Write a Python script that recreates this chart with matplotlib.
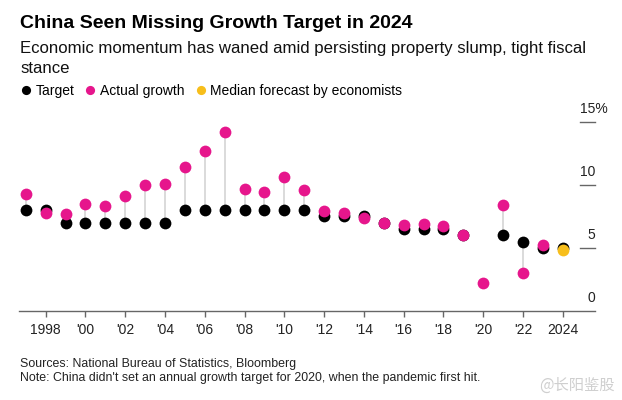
import matplotlib
matplotlib.use("Agg")
import numpy as np
from matplotlib import pyplot as plt
from matplotlib.lines import Line2D

plt.rcParams["font.family"] = ["Liberation Sans", "DejaVu Sans"]

# GDP growth, percent
years = list(range(1997, 2025))
target = [8, 8, 7, 7, 7, 7, 7, 7, 8, 8, 8, 8, 8, 8, 8, 7.5, 7.5, 7.5, 7.0,
          6.5, 6.5, 6.5, 6.0, np.nan, 6.0, 5.5, 5.0, 5.0]
actual = [9.25, 7.8, 7.7, 8.5, 8.3, 9.1, 10.0, 10.1, 11.4, 12.7, 14.2, 9.7,
          9.4, 10.6, 9.6, 7.9, 7.8, 7.4, 7.0, 6.8, 6.9, 6.7, 6.0, 2.2, 8.4,
          3.0, 5.2, np.nan]
forecast_year = [2024]
forecast = [4.8]

xtick_years = list(range(1998, 2025, 2))
xtick_labels = ["1998", "'00", "'02", "'04", "'06", "'08", "'10", "'12",
                "'14", "'16", "'18", "'20", "'22", "2024"]
ytick_values = [15, 10, 5, 0]
ytick_labels = ["15%", "10", "5", "0"]

PINK = "#e6168c"
YELLOW = "#f7be1b"
GRAY = "#666666"

fig = plt.figure(figsize=(6.22, 4.00), dpi=100)
ax = fig.add_axes([19 / 622, 1 - 311 / 400, 576 / 622, (311 - 121.7) / 400])

# stems between target and actual
for y, t, a in zip(years, target, actual):
    if not (np.isnan(t) or np.isnan(a)):
        ax.plot([y, y], [t, a], color="#d4d4d4", lw=1.2, zorder=1,
                solid_capstyle="butt")

ax.scatter(years, target, s=72, color="black", zorder=2, clip_on=False,
           linewidths=0)
ax.scatter(years, actual, s=72, color=PINK, zorder=3, clip_on=False,
           linewidths=0)
ax.scatter(forecast_year, forecast, s=72, color=YELLOW, zorder=4,
           clip_on=False, linewidths=0)

ax.set_xlim(1996.66, 2025.62)
ax.set_ylim(0, 15)

for side in ["top", "right", "left"]:
    ax.spines[side].set_visible(False)
ax.spines["bottom"].set_color(GRAY)
ax.spines["bottom"].set_linewidth(1.0)

ax.set_xticks(xtick_years)
ax.set_xticklabels(xtick_labels, fontsize=10, color="#222222")
ax.tick_params(axis="x", length=4, width=1.0, color=GRAY, pad=5)
ax.set_yticks([])

# y ticks drawn on the right, labels sitting above the tick lines
ytr = ax.get_yaxis_transform()
for v, lab in zip(ytick_values, ytick_labels):
    if v > 0:
        ax.plot([0.974, 1.0], [v, v], color=GRAY, lw=1.0, transform=ytr,
                clip_on=False)
    if lab.endswith("%"):
        ax.annotate(lab, (0.974, v), xycoords=ytr, xytext=(0, 6.2),
                    textcoords="offset points", ha="left", va="baseline",
                    fontsize=10, color="#222222")
    else:
        ax.annotate(lab, (1.0, v), xycoords=ytr, xytext=(0, 6.2),
                    textcoords="offset points", ha="right", va="baseline",
                    fontsize=10, color="#222222")

fig.text(20 / 622, 1 - 28.3 / 400, "China Seen Missing Growth Target in 2024",
         fontsize=14, fontweight="bold", va="baseline", color="black")
fig.text(20 / 622, 1 - 53.3 / 400,
         "Economic momentum has waned amid persisting property slump, tight fiscal",
         fontsize=12.1, va="baseline", color="#111111")
fig.text(20 / 622, 1 - 72.7 / 400, "stance", fontsize=12.1, va="baseline",
         color="#111111")

handles = [Line2D([], [], marker="o", ls="", ms=6.6, color=c, mew=0)
           for c in ["black", PINK, YELLOW]]
fig.legend(handles, ["Target", "Actual growth", "Median forecast by economists"],
           ncol=3, loc="upper left", bbox_to_anchor=(21 / 622, 1 - 84 / 400),
           frameon=False, fontsize=10, handlelength=0.7, handletextpad=0.35,
           columnspacing=0.8, borderpad=0, borderaxespad=0)

fig.text(20 / 622, 1 - 366.7 / 400,
         "Sources: National Bureau of Statistics, Bloomberg",
         fontsize=8.9, va="baseline", color="#222222")
fig.text(20 / 622, 1 - 381 / 400,
         "Note: China didn't set an annual growth target for 2020, when the pandemic first hit.",
         fontsize=8.9, va="baseline", color="#222222")

fig.text(615 / 622, 1 - 385 / 400, "@长阳鉴股", fontsize=11, ha="right",
         va="center", color="#cfcfcf",
         family=["Noto Sans CJK SC", "DejaVu Sans"])

fig.savefig("out.png", dpi=100)
